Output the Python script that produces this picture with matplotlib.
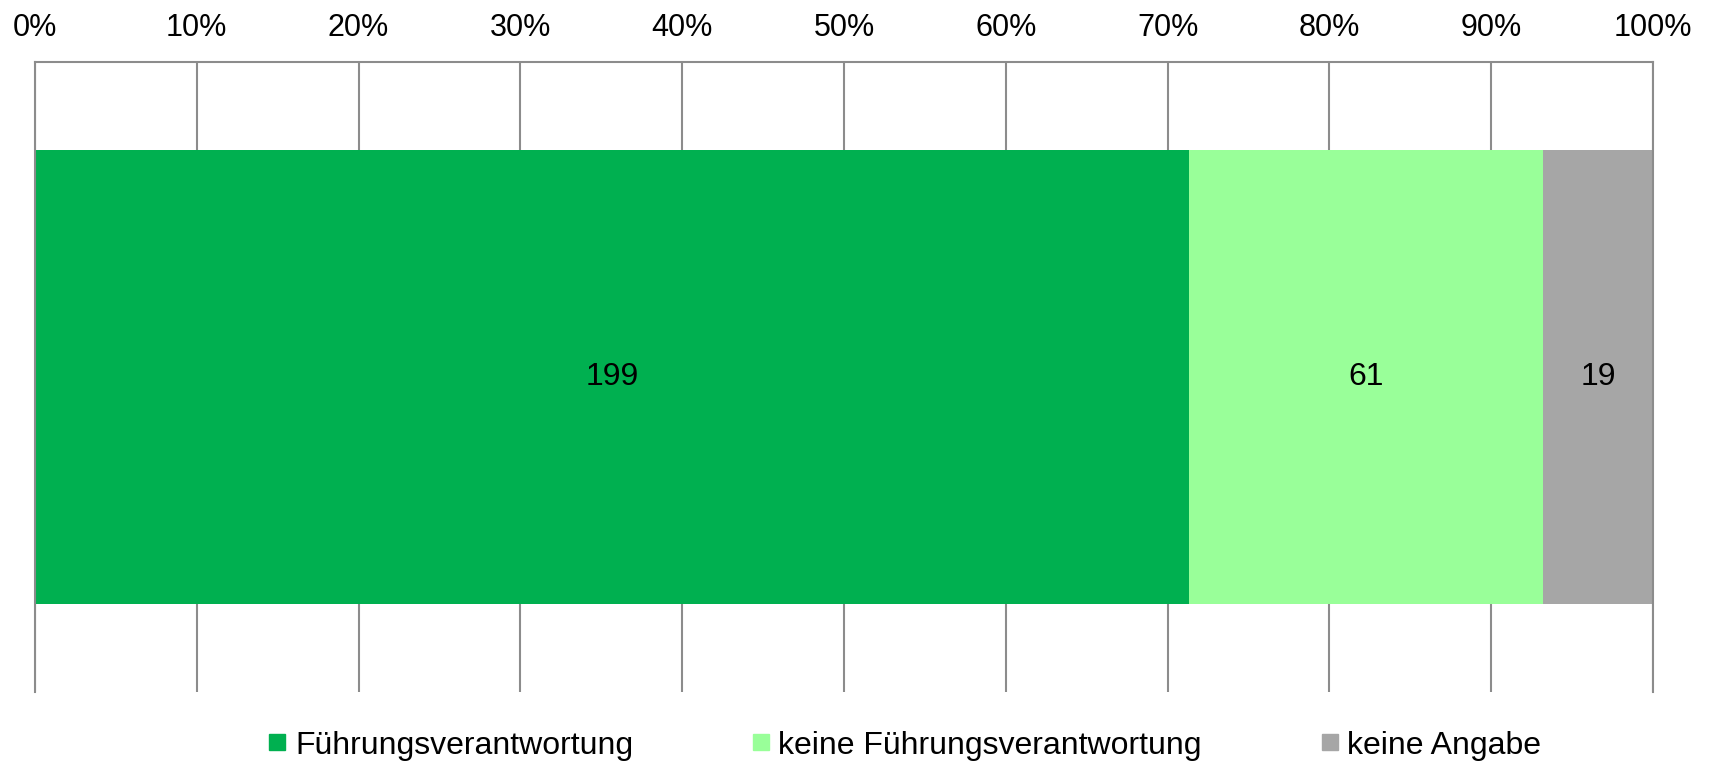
import matplotlib.pyplot as plt
from matplotlib.lines import Line2D
from matplotlib import font_manager

categories = ["Führungsverantwortung", "keine Führungsverantwortung", "keine Angabe"]
counts = [199, 61, 19]
colors = ["#00B050", "#99FF99", "#A6A6A6"]
ticks = [0, 10, 20, 30, 40, 50, 60, 70, 80, 90, 100]

names = {f.name for f in font_manager.fontManager.ttflist}
narrow = "Liberation Sans Narrow" if "Liberation Sans Narrow" in names else "Liberation Sans"
plt.rcParams["font.family"] = ["Liberation Sans", "DejaVu Sans"]

total = sum(counts)
shares = [c / total * 100 for c in counts]

fig = plt.figure(figsize=(17.13, 7.64), dpi=100)
ax = fig.add_axes([0.0204, 0.0942, 0.9446, 0.8246])

left = 0
for cat, c, s, col in zip(categories, counts, shares, colors):
    ax.barh(0, s, left=left, height=0.72, color=col, zorder=2, label=cat)
    ax.text(left + s / 2, 0, str(c), ha="center", va="center",
            fontsize=23, family=narrow, zorder=3)
    left += s

ax.set_xlim(0, 100)
ax.set_ylim(-0.5, 0.5)
ax.set_xticks(ticks)
ax.set_xticklabels([f"{t}%" for t in ticks])
ax.xaxis.tick_top()
ax.tick_params(axis="x", length=0, pad=14, labelsize=22)
ax.set_yticks([])
ax.grid(axis="x", color="#8C8C8C", linewidth=1.5, zorder=0)
for side in ["left", "right", "top"]:
    ax.spines[side].set_color("#8C8C8C")
    ax.spines[side].set_linewidth(1.5)
ax.spines["bottom"].set_visible(False)

handles = [Line2D([], [], marker="s", linestyle="none", markersize=11,
                  markerfacecolor=col, markeredgecolor=col) for col in colors]
fig.legend(handles, categories, loc="center", bbox_to_anchor=(0.528, 0.024),
           ncol=3, frameon=False, prop={"family": narrow, "size": 23},
           handlelength=0.6, handletextpad=0.25, columnspacing=3.7,
           borderpad=0, borderaxespad=0)

fig.savefig("out.png", dpi=100)
